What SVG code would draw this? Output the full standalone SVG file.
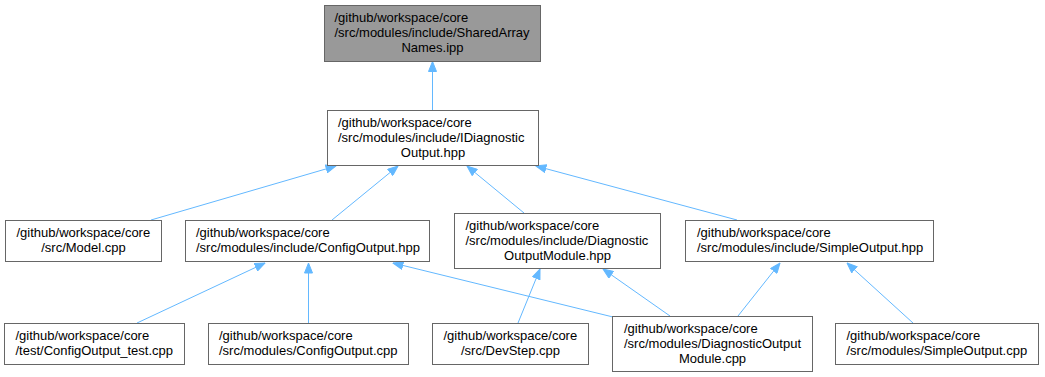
<svg xmlns="http://www.w3.org/2000/svg" width="1045" height="377" viewBox="0 0 1045 377">
  <style>
    .node rect { fill: #ffffff; stroke: #666666; stroke-width: 1; }
    .node.focus rect { fill: #999999; }
    .node text { font-family: "Liberation Sans", Arial, Helvetica, sans-serif; font-size: 13px; fill: #000000; }
    .node text.c { text-anchor: middle; }
    .edges line { stroke: #63b8ff; stroke-width: 1; fill: none; marker-end: url(#arrow); }
  </style>
  <defs>
    <marker id="arrow" markerUnits="userSpaceOnUse" markerWidth="11" markerHeight="9" viewBox="0 0 11 9" refX="10.5" refY="4.5" orient="auto">
      <path d="M0.5,0.5 L10.5,4.5 L0.5,8.5 z" fill="#63b8ff" stroke="#63b8ff" stroke-width="1"/>
    </marker>
  </defs>
  <rect width="1045" height="377" fill="#ffffff"/>

  <g class="edges">
    <line x1="432.5" y1="110" x2="432.5" y2="61.5"/>
    <line x1="151" y1="220" x2="336" y2="166"/>
    <line x1="332" y1="220" x2="398" y2="166"/>
    <line x1="524" y1="213" x2="467" y2="166"/>
    <line x1="737" y1="220" x2="536" y2="166"/>
    <line x1="137" y1="323" x2="265" y2="263"/>
    <line x1="308.5" y1="323" x2="308.5" y2="263"/>
    <line x1="613" y1="317" x2="393" y2="263"/>
    <line x1="518" y1="323" x2="540" y2="269"/>
    <line x1="670" y1="316" x2="603" y2="269"/>
    <line x1="738" y1="316" x2="780" y2="263"/>
    <line x1="913" y1="323" x2="847" y2="263"/>
  </g>

  <g id="node-sharedarraynames" class="node focus">
    <rect x="324.5" y="5.5" width="216" height="56"/>
    <text x="334.5" y="22">/github/workspace/core</text>
    <text x="334.5" y="37">/src/modules/include/SharedArray</text>
    <text class="c" x="432.5" y="52">Names.ipp</text>
  </g>

  <g id="node-idiagnosticoutput" class="node">
    <rect x="327.5" y="110.5" width="211" height="55"/>
    <text x="338" y="127">/github/workspace/core</text>
    <text x="338" y="142">/src/modules/include/IDiagnostic</text>
    <text class="c" x="433" y="157">Output.hpp</text>
  </g>

  <g id="node-model" class="node">
    <rect x="5.5" y="220.5" width="156" height="41"/>
    <text x="16.5" y="237">/github/workspace/core</text>
    <text class="c" x="83.5" y="252">/src/Model.cpp</text>
  </g>

  <g id="node-configoutput-hpp" class="node">
    <rect x="185.5" y="220.5" width="244" height="41"/>
    <text x="196" y="237">/github/workspace/core</text>
    <text x="196" y="252">/src/modules/include/ConfigOutput.hpp</text>
  </g>

  <g id="node-diagnosticoutputmodule-hpp" class="node">
    <rect x="454.5" y="213.5" width="206" height="55"/>
    <text x="465.5" y="230">/github/workspace/core</text>
    <text x="465.5" y="245">/src/modules/include/Diagnostic</text>
    <text class="c" x="557.5" y="260">OutputModule.hpp</text>
  </g>

  <g id="node-simpleoutput-hpp" class="node">
    <rect x="685.5" y="220.5" width="248" height="41"/>
    <text x="697" y="237">/github/workspace/core</text>
    <text x="697" y="252">/src/modules/include/SimpleOutput.hpp</text>
  </g>

  <g id="node-configoutput-test" class="node">
    <rect x="4.5" y="323.5" width="180" height="41"/>
    <text x="15.5" y="340">/github/workspace/core</text>
    <text x="15.5" y="355">/test/ConfigOutput_test.cpp</text>
  </g>

  <g id="node-configoutput-cpp" class="node">
    <rect x="208.5" y="323.5" width="200" height="41"/>
    <text x="219" y="340">/github/workspace/core</text>
    <text x="219" y="355">/src/modules/ConfigOutput.cpp</text>
  </g>

  <g id="node-devstep" class="node">
    <rect x="432.5" y="323.5" width="156" height="41"/>
    <text x="443.5" y="340">/github/workspace/core</text>
    <text class="c" x="510.5" y="355">/src/DevStep.cpp</text>
  </g>

  <g id="node-diagnosticoutputmodule-cpp" class="node">
    <rect x="612.5" y="316.5" width="200" height="55"/>
    <text x="624" y="333">/github/workspace/core</text>
    <text x="624" y="348">/src/modules/DiagnosticOutput</text>
    <text class="c" x="712.5" y="363">Module.cpp</text>
  </g>

  <g id="node-simpleoutput-cpp" class="node">
    <rect x="835.5" y="323.5" width="203" height="41"/>
    <text x="846.5" y="340">/github/workspace/core</text>
    <text x="846.5" y="355">/src/modules/SimpleOutput.cpp</text>
  </g>
</svg>
